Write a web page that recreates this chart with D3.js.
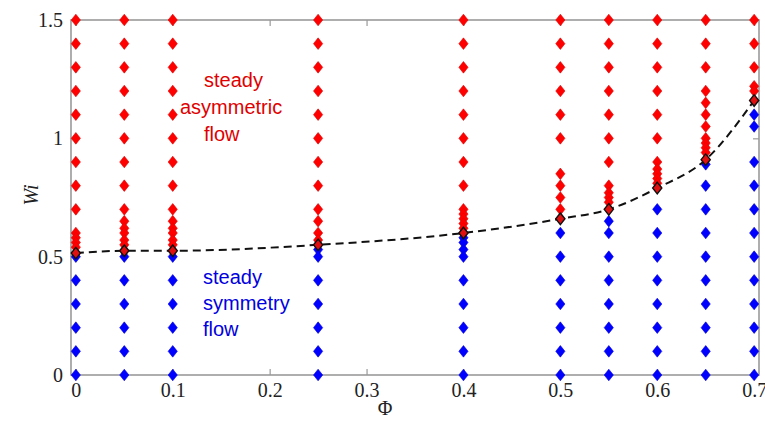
<!DOCTYPE html>
<html><head><meta charset="utf-8">
<script src="https://cdn.jsdelivr.net/npm/d3@7"></script>
<style>body{margin:0;background:#fff}svg{display:block}</style>
</head><body>
<svg id="c" width="765" height="430"></svg>
<script>
// Φ columns
const phi = [0, 0.05, 0.1, 0.25, 0.4, 0.5, 0.55, 0.6, 0.65, 0.7];
// steady asymmetric flow (red) per column
const red0   = [1.5,1.4,1.3,1.2,1.1,1.0,0.9,0.8,0.7,0.6,0.58,0.56,0.54];
const red005 = [1.5,1.4,1.3,1.2,1.1,1.0,0.9,0.8,0.7,0.65,0.62,0.6,0.57,0.55];
const red01  = [1.5,1.4,1.3,1.2,1.1,1.0,0.9,0.8,0.7,0.65,0.62,0.6,0.57,0.55];
const red025 = [1.5,1.4,1.3,1.2,1.1,1.0,0.9,0.8,0.7,0.65,0.6,0.57];
const red04  = [1.5,1.4,1.3,1.2,1.1,1.0,0.9,0.8,0.7,0.68,0.66,0.64,0.62];
const red05  = [1.5,1.4,1.3,1.2,1.1,1.0,0.85,0.8,0.75,0.7];
const red055 = [1.5,1.4,1.3,1.2,1.1,1.0,0.9,0.8,0.77,0.75,0.73];
const red06  = [1.5,1.4,1.3,1.2,1.1,1.0,0.9,0.87,0.85,0.83,0.81];
const red065 = [1.5,1.4,1.3,1.2,1.15,1.1,1.05,1.0,0.98,0.96,0.94];
const red07  = [1.5,1.4,1.3,1.22,1.2];
// steady symmetry flow (blue) per column
const blue0   = [0.5,0.4,0.3,0.2,0.1,0];
const blue005 = [0.5,0.4,0.3,0.2,0.1,0];
const blue01  = [0.5,0.4,0.3,0.2,0.1,0];
const blue025 = [0.53,0.5,0.4,0.3,0.2,0.1,0];
const blue04  = [0.58,0.56,0.53,0.5,0.4,0.3,0.2,0.1,0];
const blue05  = [0.6,0.5,0.4,0.3,0.2,0.1,0];
const blue055 = [0.65,0.6,0.5,0.4,0.3,0.2,0.1,0];
const blue06  = [0.7,0.6,0.5,0.4,0.3,0.2,0.1,0];
const blue065 = [0.89,0.8,0.7,0.6,0.5,0.4,0.3,0.2,0.1,0];
const blue07  = [1.1,1.05,0.9,0.8,0.7,0.6,0.5,0.4,0.3,0.2,0.1,0];
// critical Wi (transition)
const critWi = [0.515, 0.525, 0.525, 0.55, 0.60, 0.66, 0.70, 0.79, 0.91, 1.16];
const xTicks = [0,0.1,0.2,0.3,0.4,0.5,0.6,0.7];
const yTicks = [0,0.5,1,1.5];

const redCols = [red0,red005,red01,red025,red04,red05,red055,red06,red065,red07];
const blueCols = [blue0,blue005,blue01,blue025,blue04,blue05,blue055,blue06,blue065,blue07];

const svg = d3.select("#c");
const x = d3.scaleLinear().domain([-0.005, 0.705]).range([71, 759]);
const y = d3.scaleLinear().domain([0, 1.5]).range([375, 20]);
const gray = "#9a9a9a";

// frame
svg.append("rect").attr("x", x.range()[0]).attr("y", y.range()[1])
  .attr("width", x.range()[1]-x.range()[0]).attr("height", y.range()[0]-y.range()[1])
  .attr("fill","none").attr("stroke",gray).attr("stroke-width",1.6);

function styleAxis(g){
  g.select(".domain").remove();
  g.selectAll(".tick line").attr("stroke",gray).attr("stroke-width",1.2);
  g.selectAll(".tick text").attr("fill","#222").attr("font-family","'Liberation Serif', 'DejaVu Serif', serif").attr("font-size",20);
}
svg.append("g").attr("transform",`translate(${x.range()[0]},0)`)
  .call(d3.axisLeft(y).tickValues(yTicks).tickFormat(d=>String(d)).tickSizeInner(-6).tickSizeOuter(0).tickPadding(8))
  .call(styleAxis);
svg.append("g").attr("transform",`translate(${x.range()[1]},0)`)
  .call(d3.axisRight(y).tickValues(yTicks).tickFormat("").tickSizeInner(-6).tickSizeOuter(0))
  .call(styleAxis);
svg.append("g").attr("transform",`translate(0,${y.range()[0]})`)
  .call(d3.axisBottom(x).tickValues(xTicks).tickFormat(d=>String(d)).tickSizeInner(-6).tickSizeOuter(0).tickPadding(8))
  .call(styleAxis);
svg.append("g").attr("transform",`translate(0,${y.range()[1]})`)
  .call(d3.axisTop(x).tickValues(xTicks).tickFormat("").tickSizeInner(-6).tickSizeOuter(0))
  .call(styleAxis);

const diamond = "M0,-5.8L4.6,0L0,5.8L-4.6,0Z";

const redPts = [], bluePts = [];
phi.forEach((p,i)=>{
  redCols[i].forEach(v=>redPts.push([p,v]));
  blueCols[i].forEach(v=>bluePts.push([p,v]));
});

svg.append("g").selectAll("path").data(redPts).join("path")
  .attr("d",diamond).attr("transform",d=>`translate(${x(d[0])},${y(d[1])})`)
  .attr("fill","#ff0000").attr("stroke","#e00000").attr("stroke-width",0.6);
svg.append("g").selectAll("path").data(bluePts).join("path")
  .attr("d",diamond).attr("transform",d=>`translate(${x(d[0])},${y(d[1])})`)
  .attr("fill","#0000ff").attr("stroke","#0000e0").attr("stroke-width",0.6);

// dashed critical line
const critPts = phi.map((p,i)=>[p,critWi[i]]);
svg.append("path").datum(critPts)
  .attr("d", d3.line().x(d=>x(d[0])).y(d=>y(d[1])).curve(d3.curveMonotoneX))
  .attr("fill","none").attr("stroke","#111").attr("stroke-width",2).attr("stroke-dasharray","8,5");

svg.append("g").selectAll("path").data(critPts).join("path")
  .attr("d",diamond).attr("transform",d=>`translate(${x(d[0])},${y(d[1])})`)
  .attr("fill","#e01010").attr("stroke","#111").attr("stroke-width",1.4);

// annotations
const sans = "'Liberation Sans', Arial, sans-serif";
const redText = svg.append("g").attr("fill","#e00000").attr("font-family",sans).attr("font-size",20);
redText.append("text").attr("x",204).attr("y",87).text("steady");
redText.append("text").attr("x",180).attr("y",114).text("asymmetric");
redText.append("text").attr("x",204).attr("y",141).text("flow");
const blueText = svg.append("g").attr("fill","#0000e0").attr("font-family",sans).attr("font-size",20);
blueText.append("text").attr("x",203).attr("y",284).text("steady");
blueText.append("text").attr("x",203).attr("y",310).text("symmetry");
blueText.append("text").attr("x",203).attr("y",336).text("flow");

// axis titles
svg.append("text").attr("transform","translate(38,195) rotate(-90)").attr("text-anchor","middle")
  .attr("font-family","'Liberation Serif', serif").attr("font-style","italic").attr("font-size",20).attr("fill","#222").text("Wi");
svg.append("text").attr("x",385).attr("y",415).attr("text-anchor","middle")
  .attr("font-family","'Liberation Serif', serif").attr("font-size",20).attr("fill","#222").text("Φ");
</script>
</body></html>
